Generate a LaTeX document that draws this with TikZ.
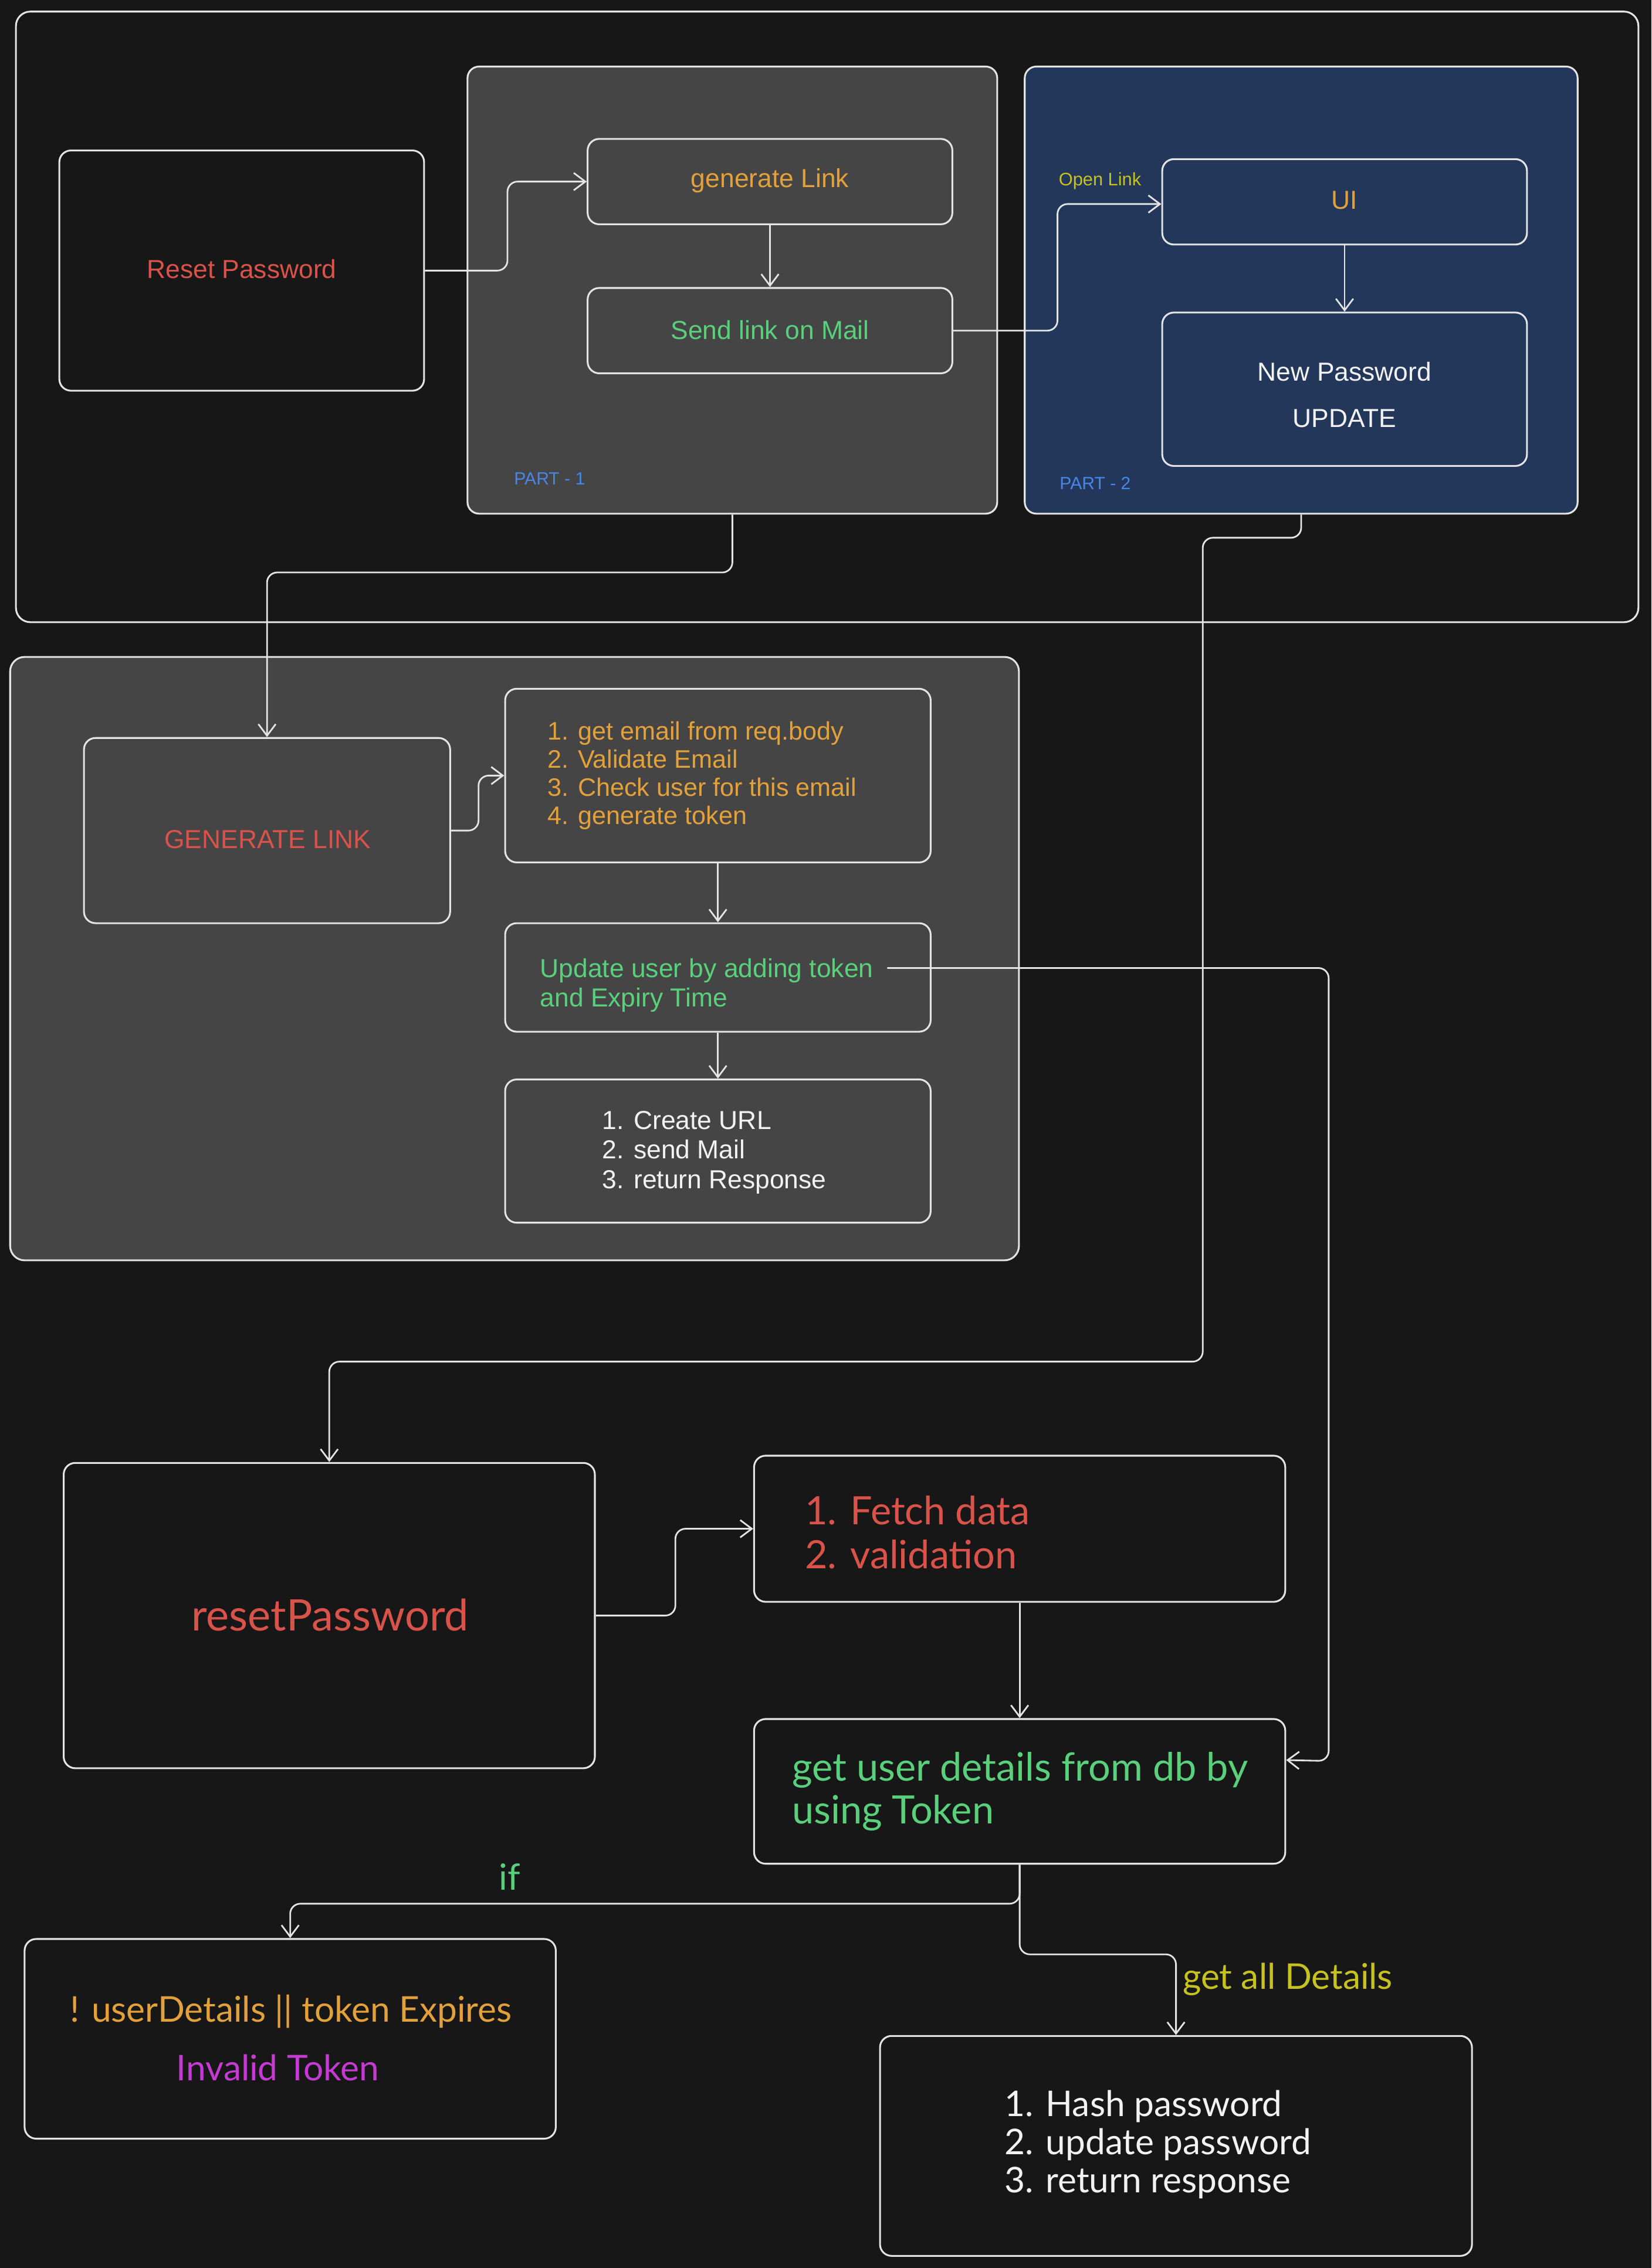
\documentclass[tikz,border=0pt]{standalone}
\usepackage{fontspec}
\setmainfont{Liberation Sans}
\newfontfamily\nunfont{Lato}
\usetikzlibrary{arrows.meta,calc}
\definecolor{bgc}{HTML}{171717}
\definecolor{grayc}{HTML}{454545}
\definecolor{bluec}{HTML}{22375A}
\definecolor{strokec}{HTML}{E4E4E4}
\definecolor{redc}{HTML}{D9534B}
\definecolor{orangec}{HTML}{E3A13B}
\definecolor{greenc}{HTML}{5ACF7C}
\definecolor{yellowc}{HTML}{C8C21E}
\definecolor{partc}{HTML}{4A86E8}
\definecolor{magc}{HTML}{C43BD1}
\definecolor{whitec}{HTML}{F2F2F2}
\begin{document}
\begin{tikzpicture}[x=1pt,y=-1pt,
  box/.style={draw=strokec, line width=1.25pt, rounded corners=8pt, inner sep=0pt, align=center},
  bigframe/.style={box, rounded corners=10pt},
  conn/.style={draw=strokec, line width=1.15pt, rounded corners=7pt, -{Straight Barb[length=8pt,width=12pt,line width=1.15pt]}},
  lbl/.style={inner sep=0pt, align=left}
]
\useasboundingbox (0,0) rectangle (1141,1567.4);
\fill[bgc] (0,0) rectangle (1141,1567.4);

% ---------- top frame ----------
\node[bigframe, fill=bgc, minimum width=1121pt, minimum height=422pt] (outerA) at (571.5,219) {};
\node[box, fill=grayc, minimum width=366pt, minimum height=309pt] (partA) at (506,200.5) {};
\node[box, fill=bluec, minimum width=382pt, minimum height=309pt] (partB) at (899,200.5) {};

\node[box, fill=bgc, minimum width=252pt, minimum height=166pt] (rpTop) at (167,187) {};
\node[lbl, text=redc, font=\fontsize{18}{20}\selectfont] (rpTopTxt) at (167,186) {Reset Password};
\node[box, minimum width=252pt, minimum height=59pt] (gl) at (532,125.5) {};
\node[lbl, text=orangec, font=\fontsize{18}{20}\selectfont] (glTxt) at (532,125) {generate Link};
\node[box, minimum width=252pt, minimum height=59pt] (sl) at (532,228.5) {};
\node[lbl, text=greenc, font=\fontsize{18}{20}\selectfont] (slTxt) at (532,228) {Send link on Mail};
\node[box, minimum width=252pt, minimum height=59pt] (ui) at (929,139.5) {};
\node[lbl, text=orangec, font=\fontsize{18}{20}\selectfont] (uiTxt) at (929,138.5) {UI};
\node[box, minimum width=252pt, minimum height=106pt] (np) at (929,269) {};
\node[lbl, align=center, text=whitec, font=\fontsize{18}{32}\selectfont] (npTxt) at (929,273) {New Password\\UPDATE};

\node[lbl, anchor=west, text=partc, font=\fontsize{12.2}{14}\selectfont] (p1lbl) at (355,331) {PART - 1};
\node[lbl, anchor=west, text=partc, font=\fontsize{12.2}{14}\selectfont] (p2lbl) at (732,334) {PART - 2};
\node[lbl, text=yellowc, font=\fontsize{12.5}{14}\selectfont] (openlbl) at (760,125) {Open Link};

% ---------- middle frame ----------
\node[bigframe, fill=grayc, minimum width=697pt, minimum height=417pt] (outerB) at (355.5,662.5) {};
\node[box, minimum width=253pt, minimum height=128pt] (gL) at (184.5,574) {};
\node[lbl, text=redc, font=\fontsize{18}{20}\selectfont] (gLTxt) at (185,580) {GENERATE LINK};
\node[box, minimum width=294pt, minimum height=120pt] (steps) at (496,536) {};
\node[box, minimum width=294pt, minimum height=75pt] (upd) at (496,675.5) {};
\node[box, minimum width=294pt, minimum height=99pt] (cr) at (496,795.5) {};

\node[lbl, anchor=west, text=orangec, font=\fontsize{17.5}{19.5}\selectfont] (stepsTxt) at (378,536)
  {1. get email from req.body\\2. Validate Email\\3. Check user for this email\\4. generate token};
\node[lbl, anchor=west, text=greenc, font=\fontsize{18}{20}\selectfont] (updTxt) at (373,681)
  {Update user by adding token\\and Expiry Time};
\node[lbl, anchor=west, text=whitec, font=\fontsize{18}{20.5}\selectfont] (crTxt) at (416,796.5)
  {1. Create URL\\2. send Mail\\3. return Response};

% ---------- bottom ----------
\node[box, fill=bgc, minimum width=367pt, minimum height=211pt] (rpw) at (227.5,1116.5) {};
\node[lbl, text=redc, font=\nunfont\fontsize{30}{34}\selectfont] (rpwTxt) at (228,1116) {resetPassword};
\node[box, minimum width=367pt, minimum height=101pt] (fetch) at (704.5,1056.5) {};
\node[box, minimum width=367pt, minimum height=100pt] (gu) at (704.5,1238) {};
\node[box, minimum width=367pt, minimum height=138pt] (inv) at (200.5,1409) {};
\node[box, minimum width=409pt, minimum height=152pt] (hash) at (812.5,1483) {};

\node[lbl, anchor=west, text=redc, font=\nunfont\fontsize{27}{30}\selectfont] (fetchTxt) at (556,1059)
  {1. Fetch data\\2. validation};
\node[lbl, anchor=west, text=greenc, font=\nunfont\fontsize{27}{29.5}\selectfont] (guTxt) at (547,1238)
  {get user details from db by\\using Token};
\node[lbl, text=orangec, font=\nunfont\fontsize{24.5}{28}\selectfont] (invTxtA) at (201,1390) {! userDetails || token Expires};
\node[lbl, text=magc, font=\nunfont\fontsize{24.5}{28}\selectfont] (invTxtB) at (192,1429) {Invalid Token};
\node[lbl, anchor=west, text=whitec, font=\nunfont\fontsize{24.5}{26.5}\selectfont] (hashTxt) at (694,1482)
  {1. Hash password\\2. update password\\3. return response};
\node[lbl, text=greenc, font=\nunfont\fontsize{25}{28}\selectfont] (ifTxt) at (352,1297) {if};
\node[lbl, anchor=west, text=yellowc, font=\nunfont\fontsize{24.5}{28}\selectfont] (allTxt) at (817,1368) {get all Details};

% ---------- connectors ----------
\draw[conn] (rpTop.east) -- ++(57,0) |- (gl.west);
\draw[conn] (gl.south) -- (sl.north);
\draw[conn] (sl.east) -- ++(72,0) |- ([yshift=-1.5pt]ui.west);
\draw[conn] (ui.south) -- (np.north);

\draw[conn] (partA.south) -- ++(0,40) -| (gL.north);
\coordinate (bendB) at (831,941);
\draw[conn] (partB.south) -- ++(0,16) -| (bendB) -| (rpw.north);

\draw[conn] (gL.east) -- ++(19,0) |- (steps.west);
\draw[conn] (steps.south) -- (upd.north);
\draw[conn] (upd.south) -- (cr.north);

\coordinate (updStart) at (613,669);
\coordinate (updBend) at (918,1217);
\draw[conn] (updStart) -| (updBend) -- ([yshift=-29pt]gu.north east);

\draw[conn] (rpw.east) -- ++(55,0) |- (fetch.west);
\draw[conn] (fetch.south) -- (gu.north);
\draw[conn] (gu.south) -- ++(0,27) -| (inv.north);
\draw[conn] (gu.south) -- ++(0,62) -| (hash.north);
\end{tikzpicture}
\end{document}
